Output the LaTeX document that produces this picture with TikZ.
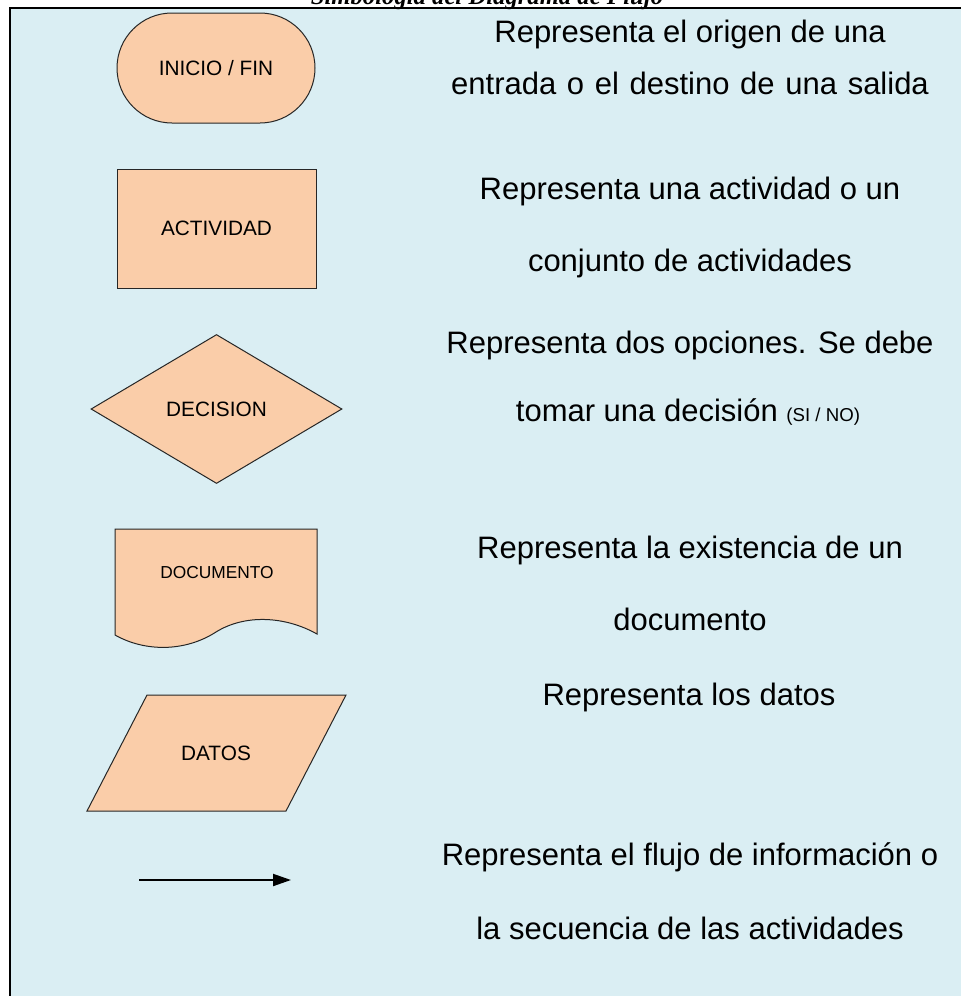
\documentclass[tikz,border=0pt]{standalone}
\usepackage{fontspec}
\setmainfont{Liberation Sans}
\newfontfamily\titlefont{Liberation Serif}
\usetikzlibrary{shapes.geometric,arrows.meta}
\definecolor{fondo}{HTML}{DAEEF3}
\definecolor{piel}{HTML}{FACDA9}
\tikzset{%
  simbolo/.style  = {draw=black!85, fill=piel, line width=0.75pt,%
                     inner sep=0pt, font=\fontsize{15.6}{18}\selectfont},%
  terminal/.style = {simbolo, rectangle, rounded corners=41.25pt,%
                     minimum width=148.5pt, minimum height=82.5pt},%
  actividad/.style= {simbolo, rectangle,%
                     minimum width=149.25pt, minimum height=89.25pt},%
  decision/.style = {simbolo, diamond,%
                     minimum width=188.25pt, minimum height=111.75pt},%
  etiqueta/.style = {inner sep=0pt, font=\fontsize{15.6}{18}\selectfont},%
  desc/.style     = {anchor=base, inner sep=0pt,%
                     font=\fontsize{23.25}{28}\selectfont}%
}
\begin{document}
\begin{tikzpicture}[x=0.75pt,y=-0.75pt]
	\useasboundingbox (0,0) rectangle (961,996);
	\clip (0,0) rectangle (961,996);
	% marco
	\fill[fondo] (11,9) rectangle (961,996);
	\draw[line width=1.5pt] (10,996) -- (10,8) -- (961,8);
	\node[anchor=base, font=\titlefont\bfseries\itshape\fontsize{18.5}{22}\selectfont]
		(titulo) at (487,4) {Simbología del Diagrama de Flujo};
	% simbolos
	\node[terminal] (inicio) at (216,68) {INICIO / FIN};
	\node[actividad] (activ) at (216.5,228.5) {ACTIVIDAD};
	\node[decision] (decis) at (216.5,409) {DECISION};
	\draw[simbolo] (115,529) -- (115,635)
		.. controls (145,652) and (185,652) .. (216,632)
		.. controls (245,614) and (285,616) .. (317,634) -- (317,529) -- cycle;
	\node[etiqueta, font=\fontsize{13}{16}\selectfont] (docum) at (217,573) {DOCUMENTO};
	\draw[simbolo] (87,811) -- (147,695) -- (346,695) -- (286,811) -- cycle;
	\node[etiqueta] (datos) at (216,753) {DATOS};
	\coordinate (flechaini) at (139,880);
	\coordinate (flechafin) at (291,880);
	\draw[line width=1.5pt, -{Triangle[length=13.5pt,width=9pt]}] (flechaini) -- (flechafin);
	% descripciones
	\node[desc] (d1a) at (690,42) {Representa el origen de una};
	\node[desc] (d1b) at (690,94) {\spaceskip=8pt entrada o el destino de una salida};
	\node[desc] (d2a) at (690,199) {Representa una actividad o un};
	\node[desc] (d2b) at (690,271) {conjunto de actividades};
	\node[desc] (d3a) at (690,353) {Representa dos opciones. Se debe};
	\node[desc] (d3b) at (688,421) {tomar una decisión {\fontsize{14}{16}\selectfont(SI / NO)}};
	\node[desc] (d4a) at (690,558) {Representa la existencia de un};
	\node[desc] (d4b) at (690,630) {documento};
	\node[desc] (d5a) at (689,705) {Representa los datos};
	\node[desc] (d6a) at (690,865) {Representa el flujo de información o};
	\node[desc] (d6b) at (690,939) {la secuencia de las actividades};
\end{tikzpicture}
\end{document}
